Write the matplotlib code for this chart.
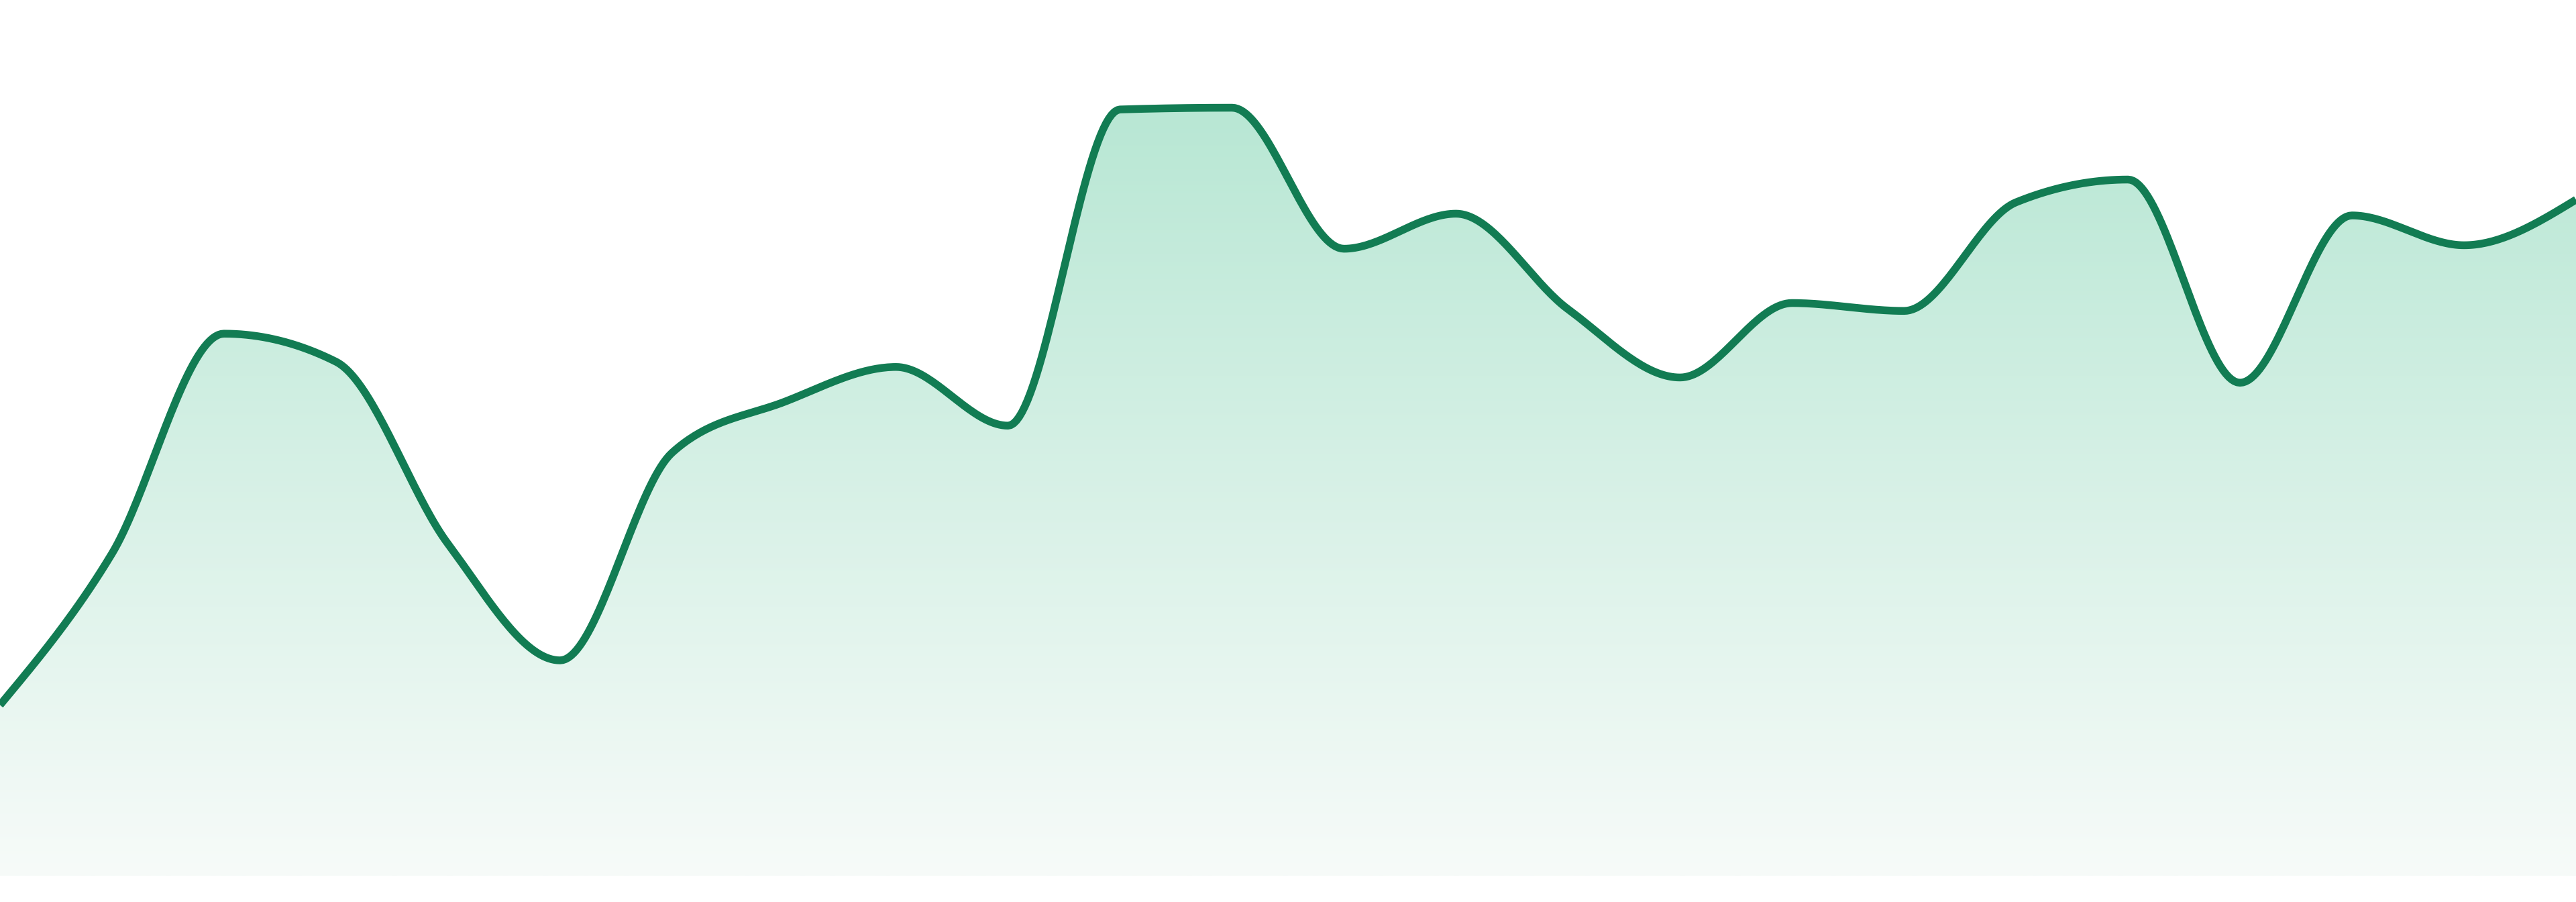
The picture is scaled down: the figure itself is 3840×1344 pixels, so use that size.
import numpy as np
import matplotlib
matplotlib.use("Agg")
import matplotlib.pyplot as plt
from matplotlib.patches import Polygon

# ---- data (y-axis 0..100) ----
points = list(range(24))
values = [19.5, 36.8, 61.9, 58.7, 37.9, 24.6, 48.3, 54.1, 58.1, 51.4,
          87.5, 87.7, 71.6, 75.6, 64.7, 56.9, 65.4, 64.5, 76.9, 79.5,
          56.3, 75.4, 72.0, 77.2]

LINE_COLOR = "#127c53"
TOP_RGB = np.array([184, 231, 212]) / 255.0
BOT_RGB = np.array([247, 251, 249]) / 255.0


def monotone_x(x, y, n=40):
    """d3.curveMonotoneX style interpolation."""
    x = np.asarray(x, float)
    y = np.asarray(y, float)
    m = len(x)
    h = np.diff(x)
    s = np.diff(y) / h
    t = np.zeros(m)
    for i in range(1, m - 1):
        h0, h1 = h[i - 1], h[i]
        s0, s1 = s[i - 1], s[i]
        p = (s0 * h1 + s1 * h0) / (h0 + h1)
        t[i] = (np.sign(s0) + np.sign(s1)) * min(abs(s0), abs(s1), 0.5 * abs(p))
    t[0] = (3 * s[0] - t[1]) / 2
    t[-1] = (3 * s[-1] - t[-2]) / 2
    xs, ys = [], []
    for i in range(m - 1):
        u = np.linspace(0, 1, n, endpoint=(i == m - 2))
        dx = h[i]
        h00 = 2 * u**3 - 3 * u**2 + 1
        h10 = u**3 - 2 * u**2 + u
        h01 = -2 * u**3 + 3 * u**2
        h11 = u**3 - u**2
        xs.append(x[i] + u * dx)
        ys.append(h00 * y[i] + h10 * dx * t[i] + h01 * y[i + 1] + h11 * dx * t[i + 1])
    return np.concatenate(xs), np.concatenate(ys)


fig = plt.figure(figsize=(38.4, 13.44), dpi=100)
ax = fig.add_axes([0, 39 / 1344, 1, 1305 / 1344])
ax.set_xlim(points[0], points[-1])
ax.set_ylim(0, 100)
ax.axis("off")

cx, cy = monotone_x(points, values)

# gradient fill under the curve
ymax = max(values)
grid_y = np.linspace(0, 100, 600)
frac = np.clip(grid_y / ymax, 0, 1)[:, None]
cols = BOT_RGB[None, :] * (1 - frac) + TOP_RGB[None, :] * frac
img = np.repeat(cols[:, None, :], 2, axis=1)
poly_xy = np.column_stack([np.r_[cx, cx[-1], cx[0]], np.r_[cy, 0, 0]])
poly = Polygon(poly_xy, closed=True, facecolor="none", edgecolor="none")
ax.add_patch(poly)
im = ax.imshow(img, extent=[points[0], points[-1], 0, 100], origin="lower",
               aspect="auto", interpolation="bilinear", zorder=1)
im.set_clip_path(poly)

ax.plot(cx, cy, color=LINE_COLOR, lw=8.3, solid_capstyle="butt",
        solid_joinstyle="round", zorder=3, clip_on=False)

fig.savefig("out.png", dpi=100, facecolor="white")
